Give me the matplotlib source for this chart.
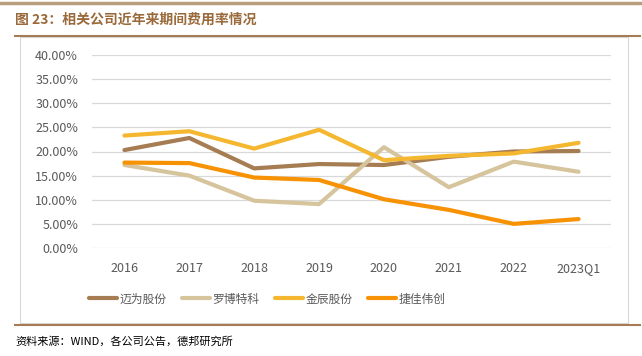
import matplotlib
matplotlib.use("Agg")
import matplotlib.pyplot as plt
from matplotlib.lines import Line2D
from matplotlib.patches import Rectangle

plt.rcParams['font.family'] = ['Noto Sans CJK SC', 'DejaVu Sans']

years = ["2016", "2017", "2018", "2019", "2020", "2021", "2022", "2023Q1"]
maiwei = [20.3, 22.8, 16.5, 17.4, 17.2, 18.9, 20.0, 20.1]
luobo = [17.2, 15.0, 9.8, 9.1, 20.9, 12.6, 17.9, 15.8]
jinchen = [23.3, 24.2, 20.6, 24.5, 18.2, 19.1, 19.6, 21.8]
jiejia = [17.7, 17.6, 14.6, 14.1, 10.1, 7.9, 5.0, 6.0]

series = [("迈为股份", maiwei, "#A67C52"),
          ("罗博特科", luobo, "#D6C49C"),
          ("金辰股份", jinchen, "#F4B72F"),
          ("捷佳伟创", jiejia, "#F79205")]

fig = plt.figure(figsize=(6.42, 3.56), dpi=100)
W, H = 642, 356

# frame and decorative lines
fig.add_artist(Rectangle((20 / W, 1 - 323 / H), 608 / W, 286 / H, transform=fig.transFigure,
                         fill=False, edgecolor="#D9D9D9", linewidth=0.8))
fig.add_artist(Line2D([0, 1], [1 - 3 / H] * 2, color="#A8865E", linewidth=2.5, alpha=0.8))
fig.add_artist(Line2D([15 / W, 640 / W], [1 - 36 / H] * 2, color="#A67C52", linewidth=1.5))
fig.add_artist(Line2D([15 / W, 640 / W], [1 - 325 / H] * 2, color="#A67C52", linewidth=1.5))

fig.text(15 / W, 1 - 20 / H, "图 23：相关公司近年来期间费用率情况", fontsize=10, fontweight="bold",
         color="#9A6A3A", va="center", ha="left")
fig.text(15 / W, 1 - 341 / H, "资料来源：WIND，各公司公告，德邦研究所", fontsize=8,
         color="#000000", va="center", ha="left")

ax = fig.add_axes([92 / W, 1 - 248 / H, 519 / W, 193 / H])
x = range(len(years))
for name, vals, c in series:
    ax.plot(x, vals, color=c, linewidth=3, label=name, solid_capstyle="round")

ax.set_xlim(-0.5, len(years) - 0.5)
ax.set_ylim(0, 40)
ax.set_yticks(range(0, 41, 5))
ax.set_yticklabels([f"{v:.2f}%" for v in range(0, 41, 5)])
ax.set_xticks(list(x))
ax.set_xticklabels(years)
ax.grid(axis="y", color="#D9D9D9", linewidth=0.9)
ax.set_axisbelow(True)
for s in ax.spines.values():
    s.set_visible(False)
ax.tick_params(axis="both", length=0, labelsize=9, colors="#595959")
ax.tick_params(axis="y", pad=10)
ax.tick_params(axis="x", pad=10)

fig.legend(loc="center", bbox_to_anchor=(267 / W, 1 - 299 / H), ncol=4, frameon=False,
           fontsize=8.5, handlelength=2.4, columnspacing=1.3, handletextpad=0.2,
           labelcolor="#595959")

fig.savefig("out.png", dpi=100)
